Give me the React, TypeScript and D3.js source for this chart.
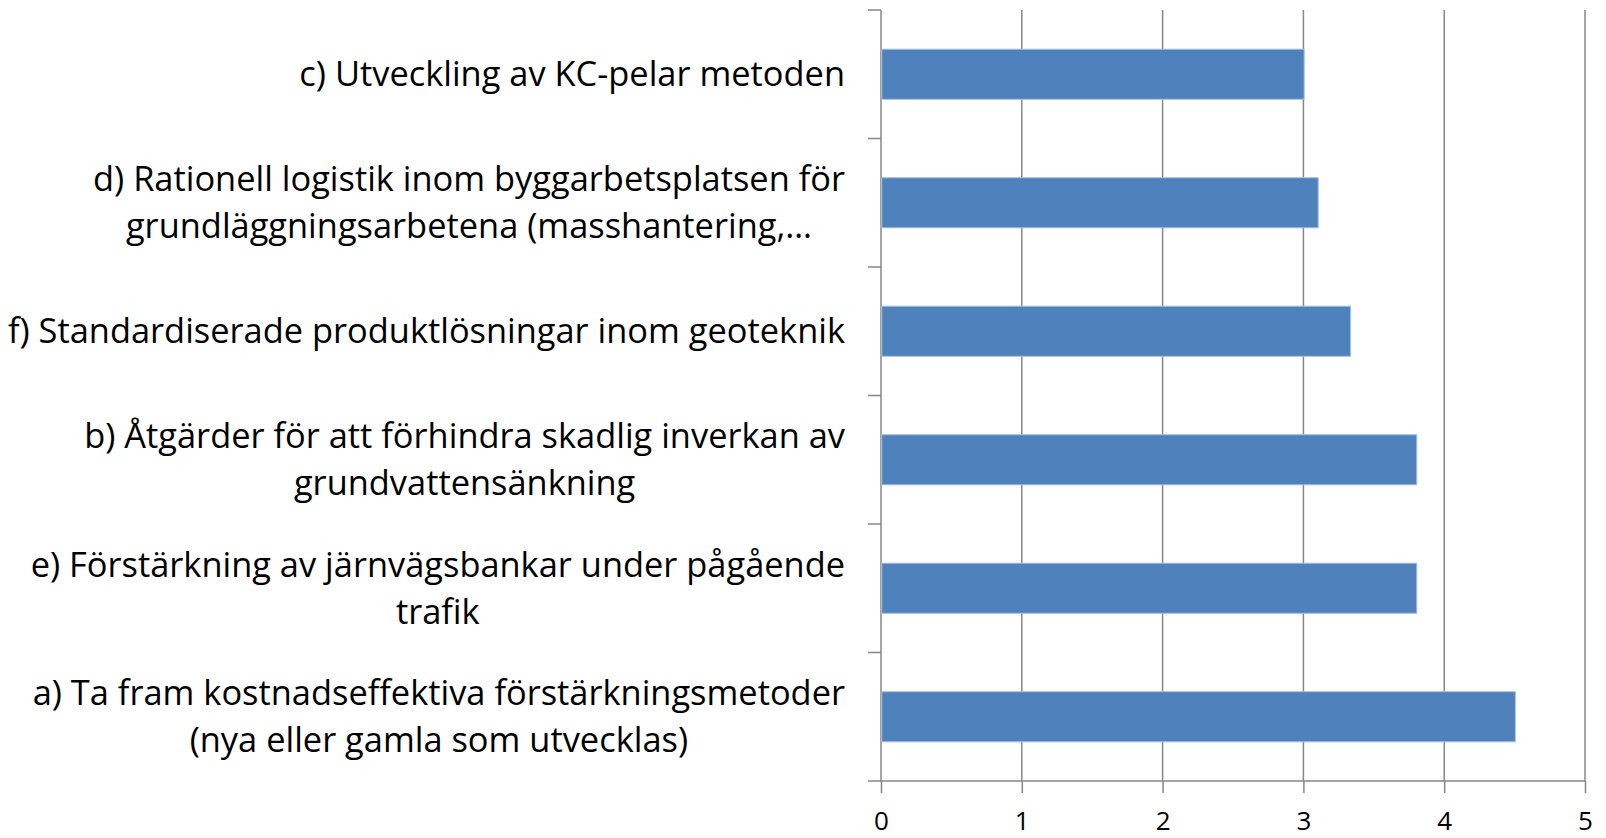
import * as d3 from 'd3';
import React, { useEffect, useRef } from 'react';

// categories, top to bottom, each an array of label lines
const categories: string[][] = [
  ['c) Utveckling av KC-pelar metoden'],
  ['d) Rationell logistik inom byggarbetsplatsen för', 'grundläggningsarbetena (masshantering,…'],
  ['f) Standardiserade produktlösningar inom geoteknik'],
  ['b) Åtgärder för att förhindra skadlig inverkan av', 'grundvattensänkning'],
  ['e) Förstärkning av järnvägsbankar under pågående', 'trafik'],
  ['a) Ta fram kostnadseffektiva förstärkningsmetoder', '(nya eller gamla som utvecklas)'],
];
const values: number[] = [3.0, 3.1, 3.33, 3.8, 3.8, 4.5];
const xTicks: number[] = [0, 1, 2, 3, 4, 5];

const App = () => {
  const svgRef = useRef<SVGSVGElement>(null);

  useEffect(() => {
    const width = 1606;
    const height = 838;
    const margin = { top: 10, right: 21, bottom: 57, left: 881 };
    const font = '"Open Sans", Lato, sans-serif';
    const grey = '#878787';

    const svg = d3.select(svgRef.current);
    svg.selectAll('*').remove();
    svg.attr('width', width).attr('height', height);

    const x = d3.scaleLinear().domain([0, 5]).range([margin.left, width - margin.right]);
    const y = d3
      .scaleBand<number>()
      .domain(d3.range(categories.length))
      .range([margin.top, height - margin.bottom])
      .paddingInner(0.61)
      .paddingOuter(0.305);
    const step = y.step();
    const bandTop = (i: number) => margin.top + i * step;

    // gridlines
    svg.append('g')
      .selectAll('line')
      .data(xTicks.slice(1))
      .enter()
      .append('line')
      .attr('x1', d => x(d))
      .attr('x2', d => x(d))
      .attr('y1', margin.top)
      .attr('y2', height - margin.bottom)
      .attr('stroke', grey)
      .attr('stroke-width', 1.5);

    // x axis
    const xAxis = svg.append('g')
      .attr('transform', `translate(0,${height - margin.bottom})`)
      .call(d3.axisBottom(x).tickValues(xTicks).tickSize(12).tickFormat(d3.format('d')));
    xAxis.select('.domain').remove();
    xAxis.selectAll('line').attr('stroke', grey).attr('stroke-width', 1.5);
    xAxis.selectAll('text')
      .attr('y', 49)
      .attr('dy', null)
      .attr('fill', '#000')
      .style('font-family', font)
      .style('font-size', '26px');
    svg.append('line')
      .attr('x1', margin.left - 13)
      .attr('x2', width - margin.right)
      .attr('y1', height - margin.bottom)
      .attr('y2', height - margin.bottom)
      .attr('stroke', grey)
      .attr('stroke-width', 1.5);

    // y axis line + category ticks
    svg.append('line')
      .attr('x1', margin.left)
      .attr('x2', margin.left)
      .attr('y1', margin.top)
      .attr('y2', height - margin.bottom)
      .attr('stroke', grey)
      .attr('stroke-width', 1.5);
    svg.append('g')
      .selectAll('line')
      .data(d3.range(categories.length))
      .enter()
      .append('line')
      .attr('x1', margin.left - 13)
      .attr('x2', margin.left)
      .attr('y1', d => bandTop(d))
      .attr('y2', d => bandTop(d))
      .attr('stroke', grey)
      .attr('stroke-width', 1.5);

    // bars
    svg.append('g')
      .selectAll('rect')
      .data(values)
      .enter()
      .append('rect')
      .attr('x', x(0) + 0.75)
      .attr('y', (d, i) => y(i)!)
      .attr('width', d => x(d) - x(0))
      .attr('height', y.bandwidth())
      .attr('fill', '#4F81BD')
      .attr('stroke', '#A9C1DF')
      .attr('stroke-width', 1);

    // category labels: block right-aligned, lines centred on each other
    const labelRight = 845;
    const lineGap = 47;
    categories.forEach((lines, i) => {
      const g = svg.append('g');
      const cy = bandTop(i) + step / 2;
      const texts = lines.map((line, j) =>
        g.append('text')
          .text(line)
          .attr('y', cy + (j - (lines.length - 1) / 2) * lineGap)
          .attr('dy', '0.35em')
          .attr('text-anchor', 'middle')
          .attr('fill', '#000')
          .style('font-family', font)
          .style('font-size', '34.4px')
      );
      const maxW = d3.max(texts, t => (t.node() as SVGTextElement).getComputedTextLength()) || 0;
      texts.forEach(t => t.attr('x', labelRight - maxW / 2));
    });
  }, []);

  return (
    <div style={{ position: 'absolute', left: 0, top: 0, background: '#fff' }}>
      <svg ref={svgRef} style={{ display: 'block' }}></svg>
    </div>
  );
};

export default App;
